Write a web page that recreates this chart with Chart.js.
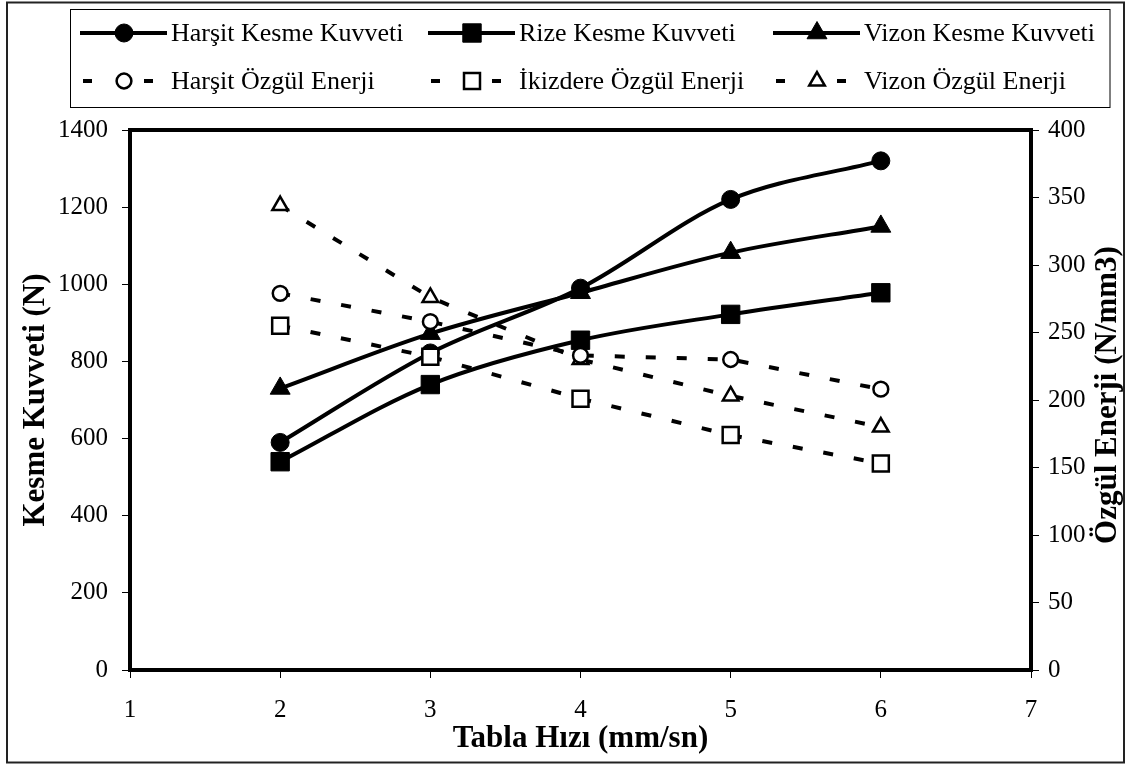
<!DOCTYPE html>
<html>
<head>
<meta charset="utf-8">
<script src="https://cdn.jsdelivr.net/npm/chart.js@4.4.1/dist/chart.umd.min.js"></script>
<style>
html, body { margin: 0; padding: 0; background: #fff; }
</style>
</head>
<body>
<canvas id="chart" width="1126" height="764"></canvas>
<script>
// tabla hizi (mm/sn)
const tablaHizi = [2, 3, 4, 5, 6]

// kesme kuvveti (N), left axis
const harsitKesme = [590, 822, 990, 1220, 1320]
const rizeKesme = [540, 740, 855, 922, 978]
const vizonKesme = [730, 872, 978, 1082, 1150]

// ozgul enerji (N/mm3), right axis
const harsitOzgul = [279, 258, 233, 230, 208]
const ikizdereOzgul = [255, 232, 201, 174, 153]
const vizonOzgul = [344, 276, 230, 203, 180]

const xTicks = [1, 2, 3, 4, 5, 6, 7]
const kesmeTicks = [0, 200, 400, 600, 800, 1000, 1200, 1400]
const ozgulTicks = [0, 50, 100, 150, 200, 250, 300, 350, 400]

const FONT = "'Liberation Serif', 'Times New Roman', serif"

function pts(ys) {
    return tablaHizi.map((x, i) => ({x: x, y: ys[i]}))
}

function solid(label, ys, style, radius) {
    return {
        label: label,
        data: pts(ys),
        yAxisID: 'y',
        borderColor: '#000',
        borderWidth: 4,
        tension: 0.33,
        pointStyle: style,
        pointRadius: radius,
        pointBackgroundColor: '#000',
        pointBorderColor: '#000',
        pointBorderWidth: 1,
        order: 2,
    }
}

function dashed(label, ys, style, radius) {
    return {
        label: label,
        data: pts(ys),
        yAxisID: 'y1',
        borderColor: '#000',
        borderWidth: 4,
        borderDash: [10, 21],
        borderCapStyle: 'butt',
        tension: 0,
        pointStyle: style,
        pointRadius: radius,
        pointBackgroundColor: '#fff',
        pointBorderColor: '#000',
        pointBorderWidth: 2.5,
        order: 1,
    }
}

// draws one marker like chart.js does, for the legend
function marker(ctx, ds, x, y) {
    const r = ds.pointRadius
    ctx.save()
    ctx.fillStyle = ds.pointBackgroundColor
    ctx.strokeStyle = ds.pointBorderColor
    ctx.lineWidth = ds.pointBorderWidth
    ctx.setLineDash([])
    ctx.beginPath()
    if (ds.pointStyle == 'circle') {
        ctx.arc(x, y, r, 0, Math.PI * 2)
    } else if (ds.pointStyle == 'rect') {
        const s = r * Math.SQRT1_2
        ctx.rect(x - s, y - s, 2 * s, 2 * s)
    } else {
        ctx.moveTo(x, y - r)
        ctx.lineTo(x + Math.sin(Math.PI * 2 / 3) * r, y + 0.5 * r)
        ctx.lineTo(x - Math.sin(Math.PI * 2 / 3) * r, y + 0.5 * r)
        ctx.closePath()
    }
    ctx.fill()
    ctx.stroke()
    ctx.restore()
}

const framePlugin = {
    id: 'frame',
    beforeDraw(chart) {
        const ctx = chart.ctx
        ctx.save()
        ctx.fillStyle = '#fff'
        ctx.fillRect(0, 0, chart.width, chart.height)
        ctx.strokeStyle = '#222'
        ctx.lineWidth = 2
        ctx.strokeRect(7, 2.5, chart.width - 9, chart.height - 4)
        ctx.lineWidth = 1
        ctx.strokeStyle = '#000'
        ctx.strokeRect(70.5, 9.5, 1039.5, 98)
        ctx.restore()
    },
    beforeDatasetsDraw(chart) {
        const a = chart.chartArea
        const ctx = chart.ctx
        ctx.save()
        ctx.strokeStyle = '#000'
        ctx.lineWidth = 4
        ctx.strokeRect(a.left, a.top, a.right - a.left, a.bottom - a.top)
        ctx.restore()
    },
    afterDraw(chart) {
        const ctx = chart.ctx
        const cols = [80, 428, 773]
        const rows = [33, 81]
        ctx.save()
        ctx.font = '26px ' + FONT
        ctx.fillStyle = '#000'
        ctx.textBaseline = 'middle'
        // solid series on the first row, dashed on the second
        const solids = chart.data.datasets.filter(d => !d.borderDash)
        const dashes = chart.data.datasets.filter(d => d.borderDash)
        solids.forEach((ds, i) => {
            const x = cols[i], y = rows[0]
            ctx.strokeStyle = '#000'
            ctx.lineWidth = 4
            ctx.beginPath()
            ctx.moveTo(x, y)
            ctx.lineTo(x + 87, y)
            ctx.stroke()
            marker(ctx, ds, x + 44, y)
            ctx.fillText(ds.label, x + 91, y + 1)
        })
        dashes.forEach((ds, i) => {
            const x = cols[i], y = rows[1]
            ctx.fillStyle = '#000'
            ctx.fillRect(x + 3, y - 2, 9, 4)
            ctx.fillRect(x + 64, y - 2, 9, 4)
            marker(ctx, ds, x + 44, y)
            ctx.fillText(ds.label, x + 91, y + 1)
        })
        // right axis title, reads bottom to top
        ctx.font = 'bold 31px ' + FONT
        ctx.textAlign = 'center'
        ctx.translate(1108, 395)
        ctx.rotate(-Math.PI / 2)
        ctx.fillText('Özgül Enerji (N/mm3)', 0, 0)
        ctx.restore()
    }
}

const tickFont = {family: FONT, size: 25}
const titleFont = {family: FONT, size: 31, weight: 'bold'}
const plain = v => String(v)

new Chart('chart', {
    type: 'line',
    data: {
        datasets: [
            solid('Harşit Kesme Kuvveti', harsitKesme, 'circle', 9),
            solid('Rize Kesme Kuvveti', rizeKesme, 'rect', 13),
            solid('Vizon Kesme Kuvveti', vizonKesme, 'triangle', 11.5),
            dashed('Harşit Özgül Enerji', harsitOzgul, 'circle', 7.4),
            dashed('İkizdere Özgül Enerji', ikizdereOzgul, 'rect', 11.3),
            dashed('Vizon Özgül Enerji', vizonOzgul, 'triangle', 9),
        ]
    },
    options: {
        responsive: false,
        animation: false,
        devicePixelRatio: 1,
        layout: {padding: {top: 130, left: 0, right: 0, bottom: 0}},
        plugins: {legend: {display: false}, tooltip: {enabled: false}},
        scales: {
            x: {
                type: 'linear', min: 1, max: 7,
                afterBuildTicks: s => { s.ticks = xTicks.map(v => ({value: v})) },
                afterFit: s => { s.height = 94 },
                grid: {drawOnChartArea: false, drawTicks: true, tickLength: 8, color: '#000', lineWidth: 1},
                border: {display: false},
                ticks: {color: '#000', font: tickFont, padding: 17, maxRotation: 0, callback: plain},
                title: {display: true, text: 'Tabla Hızı (mm/sn)', color: '#000', font: titleFont, padding: {top: 0, bottom: 6}},
            },
            y: {
                type: 'linear', position: 'left', min: 0, max: 1400,
                afterBuildTicks: s => { s.ticks = kesmeTicks.map(v => ({value: v})) },
                afterFit: s => { s.width = 130 },
                grid: {drawOnChartArea: false, drawTicks: true, tickLength: 8, color: '#000', lineWidth: 1},
                border: {display: false},
                ticks: {color: '#000', font: tickFont, padding: 14, callback: plain},
                title: {display: true, text: 'Kesme Kuvveti (N)', color: '#000', font: titleFont, padding: {top: 17, bottom: 0}},
            },
            y1: {
                type: 'linear', position: 'right', min: 0, max: 400,
                afterBuildTicks: s => { s.ticks = ozgulTicks.map(v => ({value: v})) },
                afterFit: s => { s.width = 95 },
                grid: {drawOnChartArea: false, drawTicks: true, tickLength: 8, color: '#000', lineWidth: 1},
                border: {display: false},
                ticks: {color: '#000', font: tickFont, padding: 9, callback: plain},
            },
        }
    },
    plugins: [framePlugin]
})
</script>
</body>
</html>
